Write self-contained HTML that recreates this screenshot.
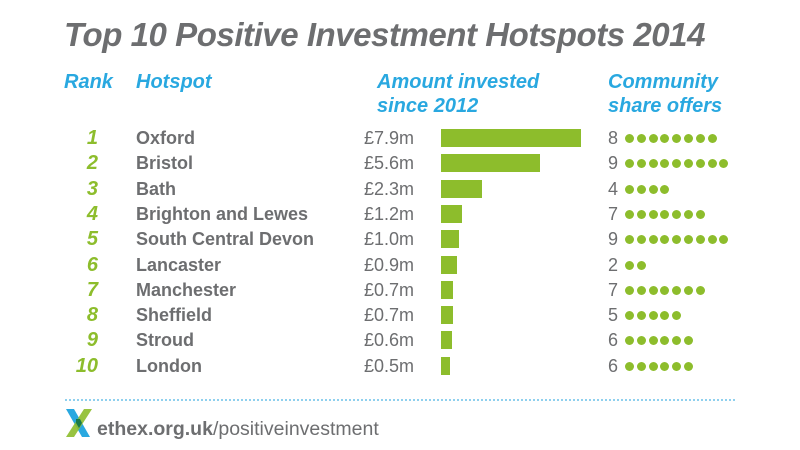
<!DOCTYPE html><html><head><style>
body{margin:0;width:800px;height:450px;background:#fff;position:relative;font-family:"Liberation Sans",sans-serif;overflow:hidden}
.t{position:absolute;white-space:nowrap}
.title{left:64px;top:16px;font-size:33px;font-weight:bold;font-style:italic;color:#6d6e70;letter-spacing:-0.45px}
.h{font-size:20px;font-style:italic;font-weight:bold;color:#29a8e0;line-height:24px}
.rk{width:40px;text-align:right;left:58px;font-size:20px;font-weight:bold;font-style:italic;color:#8dbd2c}
.nm{left:136px;font-size:18px;font-weight:bold;color:#6d6e70}
.am{left:364px;font-size:18px;color:#6d6e70}
.bar{position:absolute;left:441px;height:18px;background:#8dbd2c}
.cn{left:608px;font-size:18px;color:#6d6e70}
.d{position:absolute;width:9px;height:9px;border-radius:50%;background:#8dbd2c}
</style></head><body>
<div class="t title">Top 10 Positive Investment Hotspots 2014</div>
<div class="t h" style="left:64px;top:70px">Rank</div>
<div class="t h" style="left:136px;top:70px">Hotspot</div>
<div class="t h" style="left:377px;top:70px">Amount invested<br>since 2012</div>
<div class="t h" style="left:608px;top:70px">Community<br>share offers</div>
<div id="rows"></div>
<div style="position:absolute;left:65px;top:399px;width:670px;border-top:2px dotted #8fd0ee"></div>
<svg style="position:absolute;left:64px;top:407px" width="30" height="32"><path d="M2 2h8l16 28h-8z" fill="#29a8e0"/><path d="M20 2h8L10 30H2z" fill="#8dbd2c" opacity=".9"/><path d="M12 12l4 0 2 4-3 5-3-5z" fill="#1a7a4a"/></svg>
<div class="t" style="left:97px;top:418px;font-size:19.5px;color:#6d6e70"><b>ethex.org.uk</b>/positiveinvestment</div>
<script>
var d=[["Oxford",7.9,8],["Bristol",5.6,9],["Bath",2.3,4],["Brighton and Lewes",1.2,7],["South Central Devon",1.0,9],["Lancaster",0.9,2],["Manchester",0.7,7],["Sheffield",0.7,5],["Stroud",0.6,6],["London",0.5,6]];
var h="";d.forEach(function(r,i){var c=138+i*25.3;var t=c-10;
h+='<div class="t rk" style="top:'+(t-1)+'px">'+(i+1)+'</div><div class="t nm" style="top:'+t+'px">'+r[0]+'</div><div class="t am" style="top:'+t+'px">£'+r[1].toFixed(1)+'m</div><div class="bar" style="top:'+(c-9)+'px;width:'+Math.round(r[1]*17.7)+'px"></div><div class="t cn" style="top:'+t+'px">'+r[2]+'</div>';
for(var k=0;k<r[2];k++)h+='<div class="d" style="left:'+(625+k*11.8)+'px;top:'+(c-4)+'px"></div>';});
document.getElementById("rows").innerHTML=h;
</script></body></html>
